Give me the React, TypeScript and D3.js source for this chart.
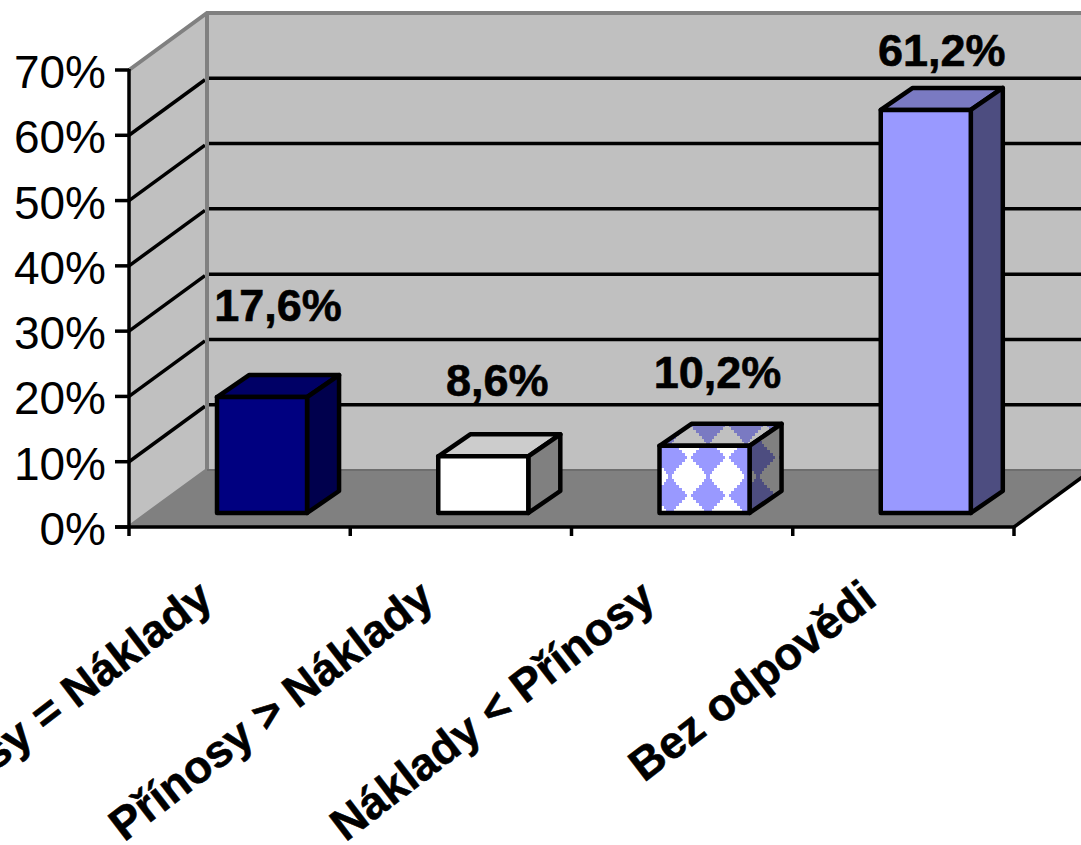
import React from "react";
import * as d3 from "d3";

const categories = ["Přínosy = Náklady", "Přínosy > Náklady", "Náklady < Přínosy", "Bez odpovědi"];
const values = [17.6, 8.6, 10.2, 61.2];
const valueLabels = ["17,6%", "8,6%", "10,2%", "61,2%"];
const axisTicks = [0, 10, 20, 30, 40, 50, 60, 70];
const labelLift = [76, 60, 58, 44];
const labelNudge = [0, -2, -3, 0];
const frontFills = ["#000080", "#ffffff", "url(#tileFront)", "#9999ff"];
const topFills = ["#000066", "#cccccc", "url(#tileTop)", "#7a7ac2"];
const sideFills = ["#00004d", "#808080", "url(#tileSide)", "#4d4d80"];

const WIDTH = 1081;
const HEIGHT = 845;
const font = "'Liberation Sans', Arial, sans-serif";

// Oblique offsets of the chart box and of each column.
const wallDx = 78;
const wallDy = -57;
const barDx = 32;
const barDy = -22;
const barShift = 22.4;

const y = d3.scaleLinear().domain([0, 70]).range([527, 70]);
const x = d3.scaleBand<string>().domain(categories).range([129, 1014]).paddingInner(0.593).paddingOuter(0.2965);
const tickX = d3.scaleLinear().domain([0, 4]).range([129, 1014]);
// Columns stand part way into the floor, so they have their own vertical scale.
const barY = d3.scaleLinear().domain([0, 70]).range([513, 52]);

const poly = (pts: [number, number][]) => d3.line()(pts) + "Z";

// Half widths of the stepped diamond, row by row from its middle outward.
const diamondRows = [17, 15, 12, 9, 6, 4, 2];
const STEP = 3;
const TILE = 38;

function DiamondTile({ id, bg, fg, transform }: { id: string; bg: string; fg: string; transform: string }) {
  const cy = TILE / 2 - 1;
  return (
    <pattern id={id} width={TILE} height={TILE} patternUnits="userSpaceOnUse" patternTransform={transform}>
      <rect width={TILE} height={TILE} fill={bg} />
      <path
        fill={fg}
        shapeRendering="crispEdges"
        d={diamondRows
          .flatMap((w, i) =>
            (i === 0 ? [0] : [-1, 1]).map((s) => {
              const top = s === 0 ? cy : s < 0 ? cy - i * STEP : cy + i * STEP;
              return `M${TILE / 2 - w},${top}h${w * 2}v${STEP}h${-w * 2}Z`;
            })
          )
          .join("")}
      />
    </pattern>
  );
}

export default function App() {
  const wallTop = y(70) + wallDy;
  const wallBottom = y(0) + wallDy;
  const backLeft = 129 + wallDx;
  const backRight = 1014 + wallDx;
  const barW = x.bandwidth();

  return (
    <svg
      width={WIDTH}
      height={HEIGHT}
      viewBox={`0 0 ${WIDTH} ${HEIGHT}`}
      style={{ position: "absolute", left: 0, top: 0, background: "#fff" }}
    >
      <defs>
        <DiamondTile id="tileFront" bg="#ffffff" fg="#9999ff" transform="translate(689 438)" />
        <DiamondTile id="tileTop" bg="#c0c0c0" fg="#7a7ac2" transform="translate(689 406)" />
        <DiamondTile id="tileSide" bg="#808080" fg="#4d4d80" transform="translate(739 438)" />
      </defs>

      {/* Side wall, back wall and floor */}
      <path d={poly([[129, y(70)], [backLeft, wallTop], [backLeft, wallBottom], [129, y(0)]])} fill="#c0c0c0" />
      <rect x={backLeft} y={wallTop} width={backRight - backLeft} height={wallBottom - wallTop} fill="#c0c0c0" />
      <path d={poly([[129, y(0)], [1014, y(0)], [backRight, wallBottom], [backLeft, wallBottom]])} fill="#808080" />

      {/* Gridlines run along the side wall, then across the back */}
      {axisTicks.filter((t) => t > 0 && t < 70).map((t) => (
        <g key={t} stroke="#000" strokeWidth={3.5} fill="none">
          <line x1={129} y1={y(t)} x2={backLeft - 2} y2={y(t) + wallDy + 1.5} />
          <line x1={backLeft} y1={y(t) + wallDy} x2={WIDTH} y2={y(t) + wallDy} />
        </g>
      ))}

      {/* Grey outline of the walls */}
      <path
        d={`M129,${y(70)}L${backLeft},${wallTop}L${WIDTH},${wallTop}M${backLeft},${wallTop}L${backLeft},${wallBottom}M129,${y(0)}L${backLeft},${wallBottom}`}
        fill="none"
        stroke="#808080"
        strokeWidth={4}
      />
      <line x1={backLeft} y1={wallBottom} x2={WIDTH} y2={wallBottom} stroke="#6e6e6e" strokeWidth={2} />

      {/* Axes */}
      <g stroke="#000" strokeWidth={3.5} fill="none">
        <line x1={129} y1={y(70) - 1} x2={129} y2={y(0)} />
        <line x1={115} y1={y(0)} x2={1014} y2={y(0)} />
        <line x1={1014} y1={y(0)} x2={backRight} y2={wallBottom} />
        {axisTicks.map((t) => (
          <line key={t} x1={115} y1={y(t)} x2={129} y2={y(t)} />
        ))}
        {d3.range(5).map((i) => (
          <line key={i} x1={tickX(i)} y1={y(0)} x2={tickX(i)} y2={y(0) + 9} />
        ))}
      </g>
      {axisTicks.map((t) => (
        <text key={t} x={106} y={y(t) + 18} textAnchor="end" fontFamily={font} fontSize={46} fill="#000">
          {t}%
        </text>
      ))}

      {/* Columns */}
      {categories.map((c, i) => {
        const x0 = (x(c) as number) + barShift;
        const x1 = x0 + barW;
        const top = barY(values[i]);
        const bottom = barY(0);
        return (
          <g key={c} stroke="#000" strokeWidth={4.5} strokeLinejoin="round">
            <path d={poly([[x0, top], [x1, top], [x1 + barDx, top + barDy], [x0 + barDx, top + barDy]])} fill={topFills[i]} />
            <path d={poly([[x1, top], [x1 + barDx, top + barDy], [x1 + barDx, bottom + barDy], [x1, bottom]])} fill={sideFills[i]} />
            <rect x={x0} y={top} width={barW} height={bottom - top} fill={frontFills[i]} />
          </g>
        );
      })}

      {/* Value labels */}
      {categories.map((c, i) => (
        <text
          key={c}
          x={(x(c) as number) + barShift + barW / 2 + 16 + labelNudge[i]}
          y={barY(values[i]) - labelLift[i]}
          textAnchor="middle"
          fontFamily={font}
          fontWeight="bold"
          fontSize={45}
          fill="#000"
          stroke="#000"
          strokeWidth={0.6}
        >
          {valueLabels[i]}
        </text>
      ))}

      {/* Slanted category labels */}
      {categories.map((c, i) => (
        <text
          key={c}
          transform={`translate(${tickX(i) + 86},${y(0) + 76}) rotate(-37.5)`}
          textAnchor="end"
          fontFamily={font}
          fontWeight="bold"
          fontSize={45.5}
          fill="#000"
          stroke="#000"
          strokeWidth={0.6}
        >
          {c}
        </text>
      ))}
    </svg>
  );
}
